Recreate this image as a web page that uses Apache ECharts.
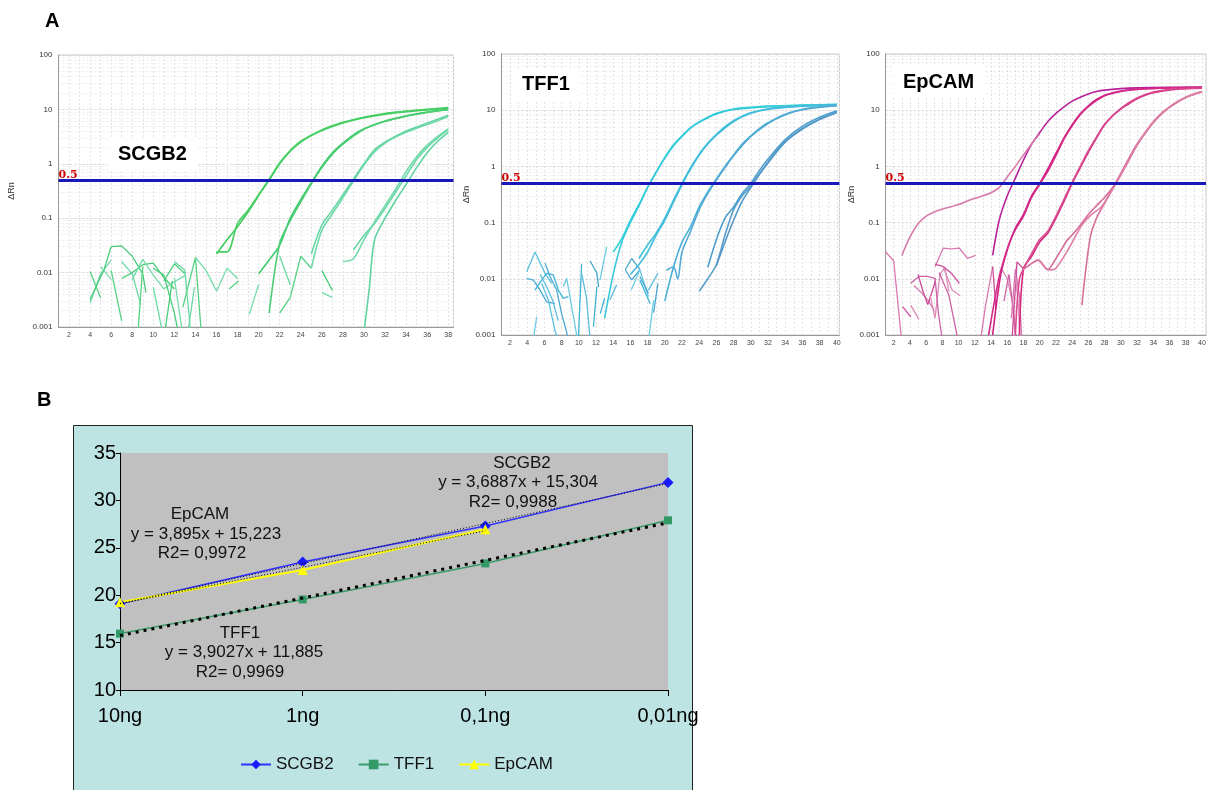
<!DOCTYPE html>
<html><head><meta charset="utf-8">
<script src="https://cdn.jsdelivr.net/npm/echarts@6/dist/echarts.min.js"></script>
<style>html,body{margin:0;padding:0;background:#fff}#c{width:1209px;height:790px}</style>
</head><body><div id="c"></div>
<script>
// ---------------- DATA ----------------
const threshold = 0.5;
// Panel A1: SCGB2 amplification curves [cycle, ΔRn]
const scgb2Amp = [
 [[16,0.022],[17,0.04],[18,0.07],[19,0.13],[20,0.26],[21,0.5],[22,1.0],[23,1.7],[24,2.5],[25,3.3],[26,4.1],[28,5.6],[30,7.0],[32,8.2],[34,9.1],[36,9.8],[38,10.4]],
 [[16,0.024],[17,0.024],[18,0.08],[19,0.14],[20,0.27],[21,0.52],[22,1.05],[23,1.75],[24,2.6],[26,4.2],[28,5.8],[30,7.2],[32,8.4],[34,9.3],[36,10],[38,10.8]],
 [[20,0.0095],[21,0.017],[22,0.032],[23,0.1],[24,0.22],[25,0.45],[26,0.9],[27,1.6],[28,2.4],[29,3.4],[30,4.4],[32,6.1],[34,7.6],[36,8.9],[38,10]],
 [[21,0.0018],[22,0.035],[23,0.09],[24,0.2],[25,0.43],[26,0.85],[27,1.5],[28,2.3],[30,4.3],[32,6],[34,7.5],[36,8.8],[38,9.9]],
 [[25,0.012],[26,0.06],[27,0.12],[28,0.24],[29,0.48],[30,0.95],[31,1.65],[32,2.4],[33,3.1],[34,3.8],[35,4.5],[36,5.3],[37,6.2],[38,7.4]],
 [[25,0.022],[26,0.075],[27,0.14],[28,0.27],[29,0.52],[30,1.0],[31,1.8],[32,2.5],[34,4],[36,5.6],[38,7.8]],
 [[28,0.016],[29,0.018],[30,0.04],[31,0.085],[32,0.17],[33,0.34],[34,0.72],[35,1.35],[36,2.2],[37,3.2],[38,4.4]],
 [[29,0.026],[30,0.048],[31,0.08],[32,0.15],[33,0.3],[34,0.6],[35,1.2],[36,2.0],[37,3.0],[38,4.2]],
 [[30,0.0008],[30.5,0.005],[31,0.04],[32,0.1],[33,0.21],[34,0.42],[35,0.85],[36,1.6],[37,2.6],[38,3.8]]
];
const scgb2Noise = [
 [[4,0.0105],[5,0.0034]],
 [[4,0.0028],[5,0.0095],[6,0.017]],
 [[4,0.0032],[5.3,0.011],[6,0.03],[7,0.031],[8,0.02],[9,0.0095],[9.3,0.0043]],
 [[5,0.013],[6,0.0075]],
 [[6,0.011],[7,0.0013]],
 [[7,0.016],[8,0.0095],[8.8,0.0026]],
 [[7,0.0078],[8,0.01],[9,0.014],[10,0.015],[11,0.0082],[12,0.005]],
 [[8,0.0075],[9,0.0175],[10,0.009],[11,0.005],[12,0.0068],[13,0.0088]],
 [[8.5,0.0006],[9,0.013]],
 [[10,0.0054],[11,0.0006]],
 [[11,0.007],[12,0.0145],[13,0.0095]],
 [[12,0.008],[12.8,0.0007]],
 [[12.8,0.0023],[14,0.019],[14.6,0.0006]],
 [[13.2,0.0006],[13.9,0.0054]],
 [[11,0.0006],[11.8,0.007]],
 [[14,0.019],[15,0.011],[16,0.0046],[17,0.012],[18,0.0078]],
 [[17.2,0.005],[18.1,0.007]],
 [[12,0.016],[13,0.011],[13.6,0.0006]],
 [[10,0.012],[11,0.009],[12,0.0018],[12.5,0.0006]],
 [[19.1,0.0017],[20,0.006]],
 [[22,0.0018],[23,0.0035],[24,0.02],[25,0.012]],
 [[22,0.02],[23,0.006]],
 [[26,0.011],[27,0.0047]],
 [[26,0.0043],[27,0.0035]]
];
// Panel A2: TFF1
const tff1Amp = [
 [[14,0.03],[15,0.052],[16,0.11],[17,0.21],[18,0.43],[19,0.8],[20,1.45],[21,2.4],[22,3.5],[23,4.9],[24,6.2],[25,7.5],[26,8.8],[28,10.5],[30,11.3],[32,11.8],[36,12.3],[40,12.7]],
 [[13,0.002],[14,0.012],[15,0.045],[16,0.1],[17,0.2],[18,0.42],[19,0.78],[20,1.4],[21,2.3],[22,3.4],[23,4.8],[24,6.1],[26,8.6],[28,10.3],[32,11.6],[36,12.2],[40,12.6]],
 [[17,0.023],[18,0.04],[19,0.065],[20,0.12],[21,0.25],[22,0.5],[23,0.95],[24,1.65],[25,2.6],[26,3.7],[27,5.1],[28,6.5],[29,7.8],[30,9],[32,10.6],[34,11.4],[36,11.9],[40,12.5]],
 [[16,0.012],[17,0.018],[18,0.03],[19,0.06],[20,0.11],[21,0.23],[22,0.47],[23,0.9],[24,1.6],[25,2.5],[26,3.6],[28,6.3],[30,8.8],[32,10.4],[36,11.8],[40,12.4]],
 [[20,0.004],[21,0.016],[22,0.045],[23,0.085],[24,0.19],[25,0.35],[26,0.6],[27,1.0],[28,1.6],[29,2.5],[30,3.5],[31,4.7],[32,6.0],[34,8.5],[36,10.4],[38,11.5],[40,12.1]],
 [[20.2,0.0142],[21,0.0164],[21.5,0.01],[22,0.03],[23,0.07],[24,0.17],[25,0.33],[26,0.57],[27,0.95],[28,1.55],[30,3.4],[32,5.8],[34,8.3],[36,10.2],[40,12]],
 [[24,0.006],[25,0.01],[26,0.018],[27,0.06],[28,0.17],[29,0.3],[30,0.45],[31,0.75],[32,1.2],[33,1.9],[34,2.8],[35,3.7],[36,4.8],[38,7],[40,9.4]],
 [[26,0.017],[27,0.045],[28,0.11],[29,0.24],[30,0.42],[31,0.72],[32,1.15],[34,2.7],[36,4.6],[38,6.8],[40,9.0]],
 [[25,0.016],[26,0.05],[27,0.12],[28,0.19],[29,0.33],[30,0.5],[31,0.85],[32,1.35],[34,3.0],[36,5.2],[38,7.5],[40,9.8]]
];
const tff1Noise = [
 [[3.94,0.0134],[4.91,0.03],[6.07,0.0125],[6.85,0.0083]],
 [[3.94,0.0102],[4.71,0.0095],[5.49,0.0063],[6.26,0.0039],[7.23,0.0036]],
 [[4.5,0.0005],[5.1,0.0021]],
 [[4.91,0.0063],[5.68,0.0095],[6.26,0.0125],[7.04,0.0117],[7.62,0.0063],[8.2,0.0045],[8.78,0.0048]],
 [[5.68,0.0083],[6.46,0.0042],[7.23,0.0012],[7.62,0.0008]],
 [[6.07,0.019],[6.65,0.011],[7.43,0.0063],[8.0,0.0024],[8.6,0.0011],[8.8,0.0007]],
 [[8.2,0.0072],[8.59,0.0102],[9.17,0.0032],[9.75,0.001],[9.9,0.0007]],
 [[9.94,0.0008],[10.33,0.0186]],
 [[10.33,0.0126],[10.9,0.0045],[11.3,0.0009]],
 [[11.3,0.021],[12.1,0.0126],[12.3,0.0072]],
 [[12.46,0.0095],[13.24,0.037]],
 [[12.5,0.0024],[13,0.0045]],
 [[13.6,0.0042],[14.4,0.0078]],
 [[15.4,0.0145],[16.15,0.023],[17.1,0.0145],[16.15,0.0096],[15.4,0.0145]],
 [[16.1,0.0063],[17.1,0.0145],[18.1,0.0048]],
 [[17.1,0.0095],[18.3,0.0036]],
 [[18.1,0.0063],[19.2,0.0126]],
 [[18.7,0.0025],[19.2,0.0083]],
 [[18.1,0.0008],[18.7,0.0042]],
 [[11.7,0.0014],[12.1,0.0073]],
 [[5.5,0.012],[6.2,0.0075],[7,0.004],[7.6,0.0018]],
 [[17.1,0.011],[18.1,0.0055]]
];
// Panel A3: EpCAM
const epcamAmp = [
 [[14.2,0.026],[15,0.11],[16,0.3],[17,0.62],[18,1.3],[19,2.5],[20,4.0],[21,6.3],[22,8.8],[23,11.5],[24,14.5],[25,17],[26,19.5],[27,21.5],[28,22.8],[30,24.2],[32,25],[36,25.6],[40,25.7]],
 [[3,0.026],[4,0.055],[5,0.095],[6,0.13],[7,0.155],[8,0.175],[9,0.19],[10,0.21],[11,0.24],[12,0.27],[13,0.3],[14,0.34],[15,0.42],[16,0.65],[17,1.0],[18,1.6],[19,2.5],[20,3.8]],
 [[14.2,0.001],[15.2,0.012],[16.2,0.04],[17,0.08],[18,0.14],[19,0.3],[20,0.5],[21,0.9],[22,1.7],[23,3.2],[24,5.5],[25,8.6],[26,12],[27,15.5],[28,18.5],[29,20.5],[30,22],[32,23.8],[34,24.5],[36,25],[40,25.5]],
 [[13.7,0.001],[14.9,0.0094],[15.5,0.02],[16.3,0.045],[17,0.075],[18,0.13],[19,0.28],[20,0.48],[21,0.82],[22,1.55],[23,3.1],[24,5.3],[25,8.3],[26,11.6],[28,18],[30,21.6],[32,23.5],[36,24.8],[40,25.3]],
 [[17.5,0.001],[18,0.015],[19,0.025],[20,0.045],[21,0.065],[22,0.12],[23,0.24],[24,0.5],[25,0.95],[26,1.8],[27,3.2],[28,5.5],[29,8],[30,10.5],[31,13],[32,16],[33,18.5],[34,20.5],[36,23],[38,24.2],[40,24.6]],
 [[17,0.001],[17.5,0.01],[18.2,0.017],[19,0.028],[20,0.05],[21,0.07],[22,0.13],[23,0.26],[24,0.52],[25,1.0],[26,1.9],[27,3.3],[28,5.6],[30,10.8],[32,16.5],[34,21],[36,23.4],[40,24.8]],
 [[25.2,0.0034],[26.2,0.052],[27,0.12],[28,0.22],[29,0.4],[30,0.75],[31,1.4],[32,2.5],[33,4.0],[34,6.2],[35,8.8],[36,11.5],[37,14.3],[38,17],[39,19.5],[40,21.5]],
 [[17.9,0.0145],[18.5,0.0166],[19.8,0.0215],[21,0.0145],[21.8,0.0205],[23.4,0.049],[24,0.06],[25,0.09],[26,0.14],[27,0.2],[28,0.28],[29,0.42],[30,0.72],[31,1.3],[32,2.4],[33,3.9],[34,6],[35,8.5],[36,11.2],[38,16.8],[40,21]],
 [[20,0.021],[21.2,0.0144],[22,0.0155],[23.6,0.035],[25.2,0.09],[26.4,0.14],[27.6,0.19],[28.5,0.3],[29.4,0.5],[30,0.7],[31,1.3],[32,2.4],[34,6.1],[36,11.3],[38,16.9],[40,21.2]]
];
const epcamNoise = [
 [[1,0.03],[2,0.021],[2.9,0.001],[3.2,0.0004]],
 [[3.1,0.0032],[4.1,0.0021]],
 [[4.1,0.0034],[5.1,0.0019]],
 [[4.1,0.0083],[5.1,0.011],[6.1,0.011],[7.1,0.0102]],
 [[4.5,0.0075],[5.5,0.0055],[6.3,0.004],[7,0.0027]],
 [[5,0.012],[5.6,0.006],[6.2,0.0035],[6.8,0.0063],[7.2,0.01]],
 [[6.5,0.005],[7.1,0.002],[7.7,0.012],[8.3,0.016],[8.8,0.006]],
 [[7.1,0.0102],[7.5,0.0025],[8,0.0008]],
 [[7.1,0.0166],[8.1,0.035],[9.1,0.034],[10.1,0.035],[11.1,0.023],[12.1,0.026]],
 [[7.1,0.018],[8.1,0.0166],[9.1,0.0126],[10.1,0.0083]],
 [[8.1,0.0166],[9.2,0.0063],[10.2,0.005]],
 [[7.6,0.013],[8.8,0.0051],[9.8,0.001],[10,0.0005]],
 [[12.5,0.0005],[13.3,0.0032],[14.2,0.0165]],
 [[14.2,0.0165],[14.6,0.003]],
 [[15.3,0.015],[16,0.01],[16.6,0.004],[17,0.0009]],
 [[15.6,0.004],[16.2,0.012],[16.8,0.0025],[17.2,0.0005]],
 [[16.5,0.002],[17,0.015],[17.5,0.005],[17.8,0.0008]],
 [[16.6,0.0009],[17.2,0.02],[18,0.015]],
 [[17,0.012],[17.4,0.003],[17.6,0.0005]]
];
// Panel B: standard curves (Ct vs template amount)
const categories = ['10ng', '1ng', '0,1ng', '0,01ng'];
const scgb2Ct = [19.1, 23.5, 27.3, 31.9];
const tff1Ct = [15.95, 19.55, 23.35, 27.9];
const epcamCt = [19.25, 22.65, 26.95, null];
const eqLabels = {
  SCGB2: ['SCGB2', 'y = 3,6887x + 15,304', 'R2= 0,9988'],
  EpCAM: ['EpCAM', 'y = 3,895x + 15,223', 'R2= 0,9972'],
  TFF1:  ['TFF1', 'y = 3,9027x + 11,885', 'R2= 0,9969']
};

// ---------------- STYLES ----------------
const FONT = '"Liberation Sans", Arial, sans-serif';
const scgb2AmpColors = ['#3ccb5c','#47cf64','#3fca6c','#4ccd74','#6fd9a8','#66d6a2','#72dbac','#6ad8a6','#5fd3a0'];
const scgb2NoisePalette = ['#55d184','#6ad8a4','#48cc78','#74dcaa'];
const tff1AmpColors = ['#2fd0d8','#38cadb','#3cc2dc','#44bbdb','#4ab0d6','#52a9d4','#5a9ecb','#5599c8','#4f9fcd'];
const tff1NoisePalette = ['#5cbfe0','#48a8d2','#6ccbe2','#3fb4d6'];
const epcamAmpColors = ['#b8229c','#d77aac','#cf1d80','#d42a88','#d6287f','#d8498f','#d8709c','#d66a98','#dd7fa6'];
const epcamNoisePalette = ['#d878b0','#cc4a9a','#e08cb8','#d062a6'];

const panels = [
  {amp: scgb2Amp, ampColors: scgb2AmpColors, noise: scgb2Noise, pal: scgb2NoisePalette, title: 'SCGB2',
   grid: {left: 58.5, top: 55, width: 395, height: 272}, xMax: 38.5, nameGap: 42,
   titlePos: {left: 108, top: 138}},
  {amp: tff1Amp, ampColors: tff1AmpColors, noise: tff1Noise, pal: tff1NoisePalette, title: 'TFF1',
   grid: {left: 501.4, top: 54, width: 338, height: 281}, xMax: 40.3, nameGap: 30,
   titlePos: {left: 512, top: 68}},
  {amp: epcamAmp, ampColors: epcamAmpColors, noise: epcamNoise, pal: epcamNoisePalette, title: 'EpCAM',
   grid: {left: 885.6, top: 54, width: 333, height: 281}, xMax: 40.5, nameGap: 28,
   titlePos: {left: 893, top: 66}}
];

const grids = [], xAxes = [], yAxes = [], series = [], titles = [];
panels.forEach((p, i) => {
  grids.push(Object.assign({show: true, backgroundColor: '#fff', borderColor: '#c8c8c8', borderWidth: 1}, p.grid));
  xAxes.push({
    type: 'value', gridIndex: i, min: 1, max: p.xMax, interval: 1,
    axisLine: {show: true, lineStyle: {color: '#999'}}, axisTick: {show: false},
    axisLabel: {fontSize: 7, color: '#444', margin: 5, fontFamily: FONT,
      formatter: v => (v % 2 === 0 ? String(v) : '')},
    splitLine: {show: true, lineStyle: {color: '#e2e2e2', type: [2, 2]}}
  });
  yAxes.push({
    type: 'log', logBase: 10, gridIndex: i, min: 0.001, max: 100,
    name: 'ΔRn', nameLocation: 'middle', nameGap: p.nameGap, nameRotate: 90,
    nameTextStyle: {fontSize: 9, color: '#333', fontFamily: FONT},
    axisLine: {show: true, lineStyle: {color: '#999'}}, axisTick: {show: false},
    axisLabel: {fontSize: 8, color: '#333', margin: 6, fontFamily: FONT},
    splitLine: {show: true, lineStyle: {color: '#d4d4d4', type: [2, 2]}},
    minorTick: {show: false, splitNumber: 9},
    minorSplitLine: {show: true, lineStyle: {color: '#ececec', type: [2, 2]}}
  });
  p.noise.forEach((seg, k) => series.push({
    type: 'line', xAxisIndex: i, yAxisIndex: i, data: seg, showSymbol: false, symbol: 'none',
    clip: true, silent: true, animation: false,
    lineStyle: {color: p.pal[k % p.pal.length], width: 1.3}
  }));
  p.amp.forEach((seg, k) => series.push({
    type: 'line', xAxisIndex: i, yAxisIndex: i, data: seg, showSymbol: false, symbol: 'none',
    clip: true, silent: true, animation: false, smooth: 0.3,
    lineStyle: {color: p.ampColors[k], width: 1.6}
  }));
  series.push({
    type: 'line', xAxisIndex: i, yAxisIndex: i, data: [], silent: true, animation: false, z: 5,
    markLine: {
      symbol: 'none', silent: true, animation: false,
      data: [{yAxis: threshold}],
      lineStyle: {color: '#1818b8', width: 3, type: 'solid'},
      label: {show: true, position: 'insideStartTop', distance: 0, formatter: String(threshold),
        color: '#cc0000', fontFamily: '"DejaVu Serif", serif', fontWeight: 'bold', fontSize: 11}
    }
  });
  titles.push({
    text: p.title, left: p.titlePos.left, top: p.titlePos.top, padding: [6, 10],
    backgroundColor: '#fff',
    textStyle: {fontSize: 20, fontWeight: 'bold', color: '#000', fontFamily: FONT}
  });
});

// Panel B
const bi = 3;
grids.push({left: 120, top: 453, width: 548, height: 237, show: true, backgroundColor: '#c0c0c0', borderWidth: 0});
xAxes.push({
  type: 'category', gridIndex: bi, data: categories, boundaryGap: false,
  axisLine: {show: true, lineStyle: {color: '#000', width: 1}},
  axisTick: {show: true, length: 6, alignWithLabel: true, lineStyle: {color: '#000'}},
  axisLabel: {fontSize: 20, color: '#000', margin: 16, fontFamily: FONT},
  splitLine: {show: false}
});
yAxes.push({
  type: 'value', gridIndex: bi, min: 10, max: 35, interval: 5,
  axisLine: {show: true, lineStyle: {color: '#000', width: 1}},
  axisTick: {show: true, length: 4, lineStyle: {color: '#000'}},
  axisLabel: {fontSize: 20, color: '#000', margin: 4, fontFamily: FONT},
  splitLine: {show: false}
});
function fitLine(vals) {
  const pts = vals.map((v, k) => [k + 1, v]).filter(p => p[1] != null);
  const n = pts.length, mx = pts.reduce((s, p) => s + p[0], 0) / n, my = pts.reduce((s, p) => s + p[1], 0) / n;
  let sxy = 0, sxx = 0;
  pts.forEach(p => { sxy += (p[0] - mx) * (p[1] - my); sxx += (p[0] - mx) ** 2; });
  const b = sxy / sxx, a = my - b * mx;
  return vals.map((v, k) => (v == null ? '-' : +(a + b * (k + 1)).toFixed(3)));
}
const bSeries = [
  {name: 'SCGB2', data: scgb2Ct, color: '#1a1aff', line: '#3030ff', symbol: 'diamond', size: 11, w: 1.5},
  {name: 'TFF1', data: tff1Ct, color: '#339966', line: '#3a9a6a', symbol: 'rect', size: 8, w: 1.5},
  {name: 'EpCAM', data: epcamCt.map(v => (v == null ? '-' : v)), color: '#ffff00', line: '#ffff00', symbol: 'triangle', size: 10, w: 2}
];
bSeries.forEach(s => series.push({
  name: s.name, type: 'line', xAxisIndex: bi, yAxisIndex: bi, data: s.data,
  symbol: s.symbol, symbolSize: s.size, showSymbol: true, animation: false,
  itemStyle: {color: s.color}, lineStyle: {color: s.line, width: s.w}, z: 3
}));
// trend lines (least squares, drawn dotted)
series.push({name: 'trend SCGB2', type: 'line', xAxisIndex: bi, yAxisIndex: bi, data: fitLine(scgb2Ct),
  symbol: 'none', animation: false, silent: true, lineStyle: {color: '#000', width: 1, type: [1, 2]}, z: 4});
series.push({name: 'trend EpCAM', type: 'line', xAxisIndex: bi, yAxisIndex: bi, data: fitLine(epcamCt),
  symbol: 'none', animation: false, silent: true, lineStyle: {color: '#000', width: 1, type: [1, 2]}, z: 4});
series.push({name: 'trend TFF1', type: 'line', xAxisIndex: bi, yAxisIndex: bi, data: fitLine(tff1Ct),
  symbol: 'none', animation: false, silent: true, lineStyle: {color: '#000', width: 3, type: [3, 5]}, z: 4});

const annot = [
  {lines: eqLabels.SCGB2, x: [522, 518, 513], y: [463, 482, 502]},
  {lines: eqLabels.EpCAM, x: [200, 206, 202], y: [514, 534, 553]},
  {lines: eqLabels.TFF1, x: [240, 244, 240], y: [633, 652, 672]}
];
const graphics = [
  {type: 'rect', z: -10, shape: {x: 73.5, y: 425.5, width: 619, height: 380},
   style: {fill: '#bde3e3', stroke: '#222', lineWidth: 1}},
  {type: 'text', x: 45, y: 21, z: 100, style: {text: 'A', font: 'bold 20px ' + FONT, fill: '#000', verticalAlign: 'middle'}},
  {type: 'text', x: 37, y: 400, z: 100, style: {text: 'B', font: 'bold 20px ' + FONT, fill: '#000', verticalAlign: 'middle'}}
];
annot.forEach(a => a.lines.forEach((t, k) => graphics.push({
  type: 'text', x: a.x[k], y: a.y[k], z: 100,
  style: {text: t, font: '17px ' + FONT, fill: '#111', align: 'center', verticalAlign: 'middle'}
})));

const chart = echarts.init(document.getElementById('c'), null, {renderer: 'canvas'});
chart.setOption({
  backgroundColor: '#fff',
  animation: false,
  title: titles,
  grid: grids, xAxis: xAxes, yAxis: yAxes,
  legend: {
    data: ['SCGB2', 'TFF1', 'EpCAM'], left: 240, top: 756, padding: 0, itemWidth: 30, itemHeight: 12, itemGap: 24,
    textStyle: {fontSize: 17, color: '#111', fontFamily: FONT}, selectedMode: false
  },
  graphic: {elements: graphics},
  series: series
});
</script></body></html>
